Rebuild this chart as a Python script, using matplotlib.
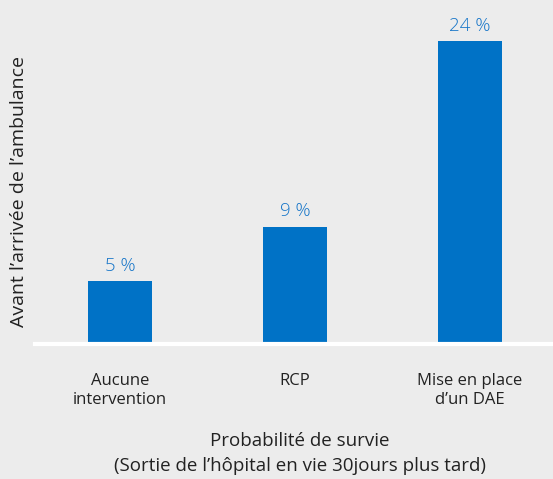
import matplotlib
matplotlib.use("Agg")
import matplotlib.pyplot as plt

categories = ["Aucune\nintervention", "RCP", "Mise en place\nd’un DAE"]
values = [5, 9.3, 24]
value_labels = ["5 %", "9 %", "24 %"]

bg = "#ececec"
blue = "#0072c6"
plt.rcParams['font.family'] = ['Open Sans', 'DejaVu Sans']

fig = plt.figure(figsize=(5.53, 4.79), dpi=100, facecolor=bg)
ax = fig.add_axes([35/553, 1-344/479, 1-35/553, 344/479])
ax.set_facecolor(bg)
x = range(len(values))
bars = ax.bar(x, values, width=0.366, color=blue, zorder=2)
for xi, v, lab in zip(x, values, value_labels):
    ax.text(xi, v + 0.5, lab, ha="center", va="bottom", color="#1474c8", fontsize=13.5, fontweight="light")
ax.set_xlim(-0.486, 2.474)
ax.set_ylim(0, 27.25)
ax.set_yticks([])
ax.set_xticks(list(x))
ax.set_xticklabels(categories, fontsize=12, color="#222222", linespacing=1.25)
ax.tick_params(axis="x", length=0, pad=21)
for s in ["top", "right", "left"]:
    ax.spines[s].set_visible(False)
ax.spines["bottom"].set_color("white")
ax.spines["bottom"].set_linewidth(3)
ax.spines["bottom"].set_zorder(3)
ax.set_ylabel("Avant l’arrivée de l’ambulance", fontsize=14, color="#222222")
ax.yaxis.set_label_coords(-0.014, 0.442)
cx = 300/553
fig.text(cx, 1-441/479, "Probabilité de survie", ha="center", va="center", fontsize=13.5, color="#222222")
fig.text(cx, 1-466/479, "(Sortie de l’hôpital en vie 30jours plus tard)", ha="center", va="center", fontsize=13.5, color="#222222")
fig.savefig("out.png", dpi=100, facecolor=bg)
